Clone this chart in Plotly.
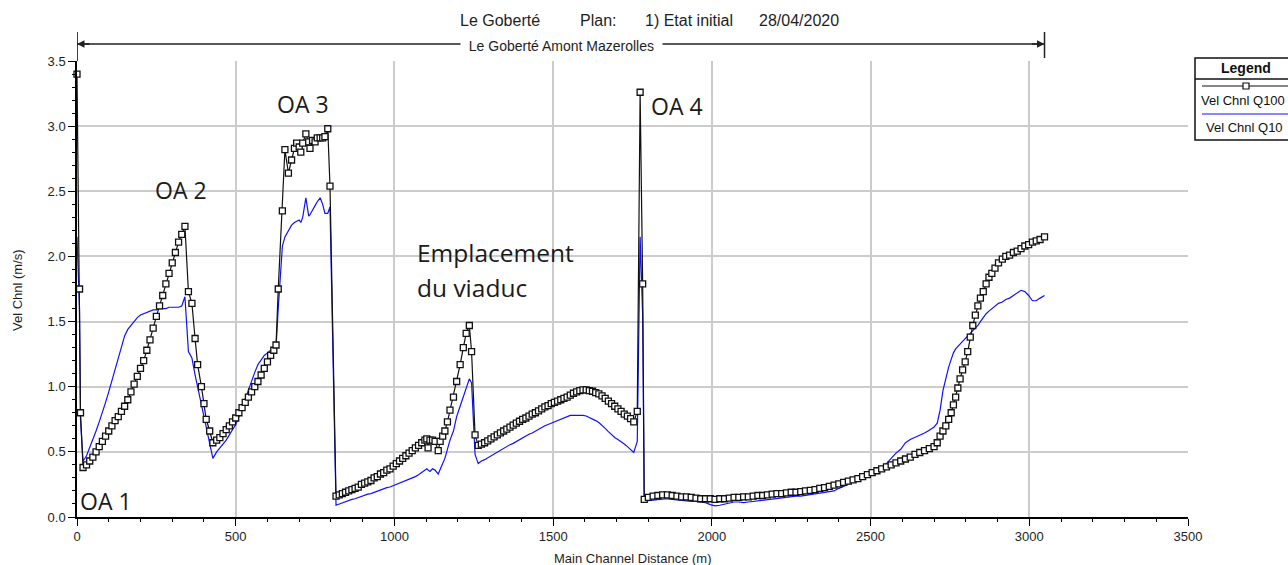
import plotly.graph_objects as go

# Cross-section stations along the main channel (m)
station_m = [
    0, 8, 11, 19,
    30, 40, 50, 60, 70, 80, 90, 100, 110, 120, 130, 140, 150, 160, 170, 180,
    190, 200, 210, 220, 230, 240, 250, 260, 270, 280, 290, 300, 310, 320, 330, 340,
    351, 362, 372, 380, 392, 400, 407, 418, 428,
    440, 450, 460, 470, 480, 490, 500, 510, 520, 530, 540, 550, 560, 570, 580, 590,
    600, 610, 620, 627, 634, 647, 655, 666, 676, 685, 692, 700, 705, 711, 721, 730,
    734, 742, 750, 757, 766, 774, 781, 790, 797,
    816, 826, 836, 846, 856, 866, 876, 886, 896, 906, 916, 926, 936, 946, 956, 966,
    976, 986, 996, 1006, 1016, 1026, 1036, 1046, 1056, 1066, 1076, 1086, 1096,
    1102, 1106, 1112, 1120, 1128, 1138, 1144, 1152, 1159, 1167, 1175, 1186, 1196,
    1207, 1217, 1226, 1236, 1243, 1254, 1264,
    1274, 1284, 1294, 1304, 1314, 1324, 1334, 1344, 1354, 1364, 1374, 1384, 1394,
    1404, 1414, 1424, 1434, 1444, 1454, 1464, 1474, 1484, 1494, 1504, 1514, 1524,
    1534, 1544, 1554, 1564, 1574, 1584, 1594, 1604, 1614, 1624, 1634, 1644, 1654,
    1664, 1674, 1684, 1694, 1704, 1714, 1724, 1734, 1744, 1754, 1765, 1774, 1782, 1787,
    1800, 1815, 1830, 1845, 1860, 1875, 1890, 1905, 1920, 1935, 1950, 1965, 1980,
    1995, 2010, 2025, 2040, 2055, 2070, 2085, 2100, 2115, 2130, 2145, 2160, 2175,
    2190, 2205, 2220, 2235, 2250, 2265, 2280, 2295, 2310, 2325, 2340, 2355, 2370,
    2385, 2400, 2415, 2430, 2445, 2460, 2475, 2490, 2505, 2520, 2535, 2550, 2565,
    2580, 2595, 2610, 2625, 2640, 2655, 2670, 2685, 2700,
    2710, 2719, 2728, 2737, 2746, 2754, 2761, 2768, 2775, 2782, 2790, 2798, 2806,
    2814, 2822, 2830, 2838, 2846, 2855, 2864, 2873, 2882, 2892, 2903, 2915, 2926,
    2938, 2950, 2962, 2974, 2986, 2998, 3010, 3022, 3034, 3048,
]

# Channel velocity, Q100 profile (m/s)
vel_chnl_q100 = [
    3.40, 1.75, 0.80, 0.38,
    0.40, 0.43, 0.46, 0.50, 0.54, 0.58, 0.62, 0.66, 0.70, 0.74, 0.77, 0.81, 0.85, 0.90, 0.96, 1.02,
    1.08, 1.14, 1.20, 1.28, 1.36, 1.45, 1.54, 1.62, 1.70, 1.79, 1.87, 1.95, 2.03, 2.11, 2.17, 2.23,
    1.73, 1.64, 1.37, 1.17, 1.00, 0.87, 0.75, 0.66, 0.57,
    0.59, 0.61, 0.64, 0.67, 0.70, 0.73, 0.76, 0.80, 0.84, 0.88, 0.92, 0.96, 1.00, 1.04, 1.09, 1.14,
    1.19, 1.24, 1.28, 1.32, 1.75, 2.35, 2.82, 2.64, 2.74, 2.83, 2.87, 2.84, 2.80, 2.87, 2.94, 2.88,
    2.83, 2.89, 2.88, 2.91, 2.91, 2.91, 2.92, 2.98, 2.54,
    0.16, 0.17, 0.18, 0.19, 0.20, 0.21, 0.22, 0.23, 0.25, 0.26, 0.27, 0.28, 0.30, 0.31, 0.33, 0.34,
    0.36, 0.37, 0.39, 0.41, 0.43, 0.45, 0.47, 0.49, 0.51, 0.53, 0.55, 0.57, 0.59,
    0.60, 0.53, 0.59, 0.59, 0.58, 0.51, 0.58, 0.62, 0.66, 0.73, 0.82, 0.92, 1.04,
    1.17, 1.30, 1.41, 1.47, 1.27, 0.63, 0.55,
    0.56, 0.57, 0.585, 0.60, 0.615, 0.63, 0.645, 0.66, 0.675, 0.69, 0.705, 0.72, 0.735,
    0.75, 0.76, 0.775, 0.79, 0.80, 0.815, 0.83, 0.845, 0.855, 0.87, 0.88, 0.89, 0.90,
    0.91, 0.92, 0.935, 0.95, 0.96, 0.97, 0.975, 0.975, 0.97, 0.965, 0.955, 0.945, 0.93,
    0.91, 0.89, 0.87, 0.85, 0.83, 0.81, 0.79, 0.775, 0.755, 0.73, 0.81, 3.26, 1.79, 0.135,
    0.15, 0.16, 0.165, 0.17, 0.17, 0.165, 0.16, 0.155, 0.155, 0.15, 0.145, 0.14, 0.14,
    0.14, 0.135, 0.14, 0.14, 0.145, 0.15, 0.15, 0.155, 0.155, 0.16, 0.165, 0.165, 0.17,
    0.175, 0.18, 0.18, 0.185, 0.19, 0.19, 0.195, 0.20, 0.205, 0.21, 0.22, 0.225, 0.235,
    0.245, 0.255, 0.265, 0.275, 0.285, 0.295, 0.31, 0.325, 0.34, 0.355, 0.37, 0.385, 0.40,
    0.415, 0.43, 0.445, 0.46, 0.48, 0.495, 0.51, 0.525, 0.54,
    0.57, 0.62, 0.66, 0.70, 0.75, 0.80, 0.86, 0.92, 0.99, 1.06, 1.13, 1.19, 1.27,
    1.38, 1.47, 1.55, 1.62, 1.68, 1.73, 1.79, 1.84, 1.87, 1.91, 1.95, 1.98, 2.00,
    2.01, 2.03, 2.04, 2.06, 2.08, 2.09, 2.11, 2.12, 2.13, 2.15,
]

# Channel velocity, Q10 profile (m/s)
vel_chnl_q10 = [
    2.15, 1.60, 0.75, 0.43,
    0.47, 0.53, 0.59, 0.66, 0.73, 0.80, 0.88, 0.96, 1.05, 1.14, 1.23, 1.32, 1.39, 1.44, 1.47, 1.50,
    1.53, 1.55, 1.56, 1.57, 1.58, 1.59, 1.59, 1.60, 1.60, 1.60, 1.61, 1.61, 1.61, 1.61, 1.62, 1.69,
    1.27, 1.22, 1.09, 1.00, 0.86, 0.77, 0.69, 0.56, 0.45,
    0.50, 0.53, 0.56, 0.59, 0.63, 0.67, 0.71, 0.77, 0.84, 0.91, 0.98, 1.05, 1.11, 1.17, 1.21, 1.24,
    1.26, 1.28, 1.29, 1.30, 1.60, 2.08, 2.15, 2.20, 2.24, 2.26, 2.27, 2.28, 2.26, 2.30, 2.45, 2.31,
    2.32, 2.36, 2.39, 2.42, 2.45, 2.40, 2.33, 2.33, 2.38,
    0.09, 0.10, 0.11, 0.12, 0.13, 0.135, 0.14, 0.15, 0.16, 0.165, 0.175, 0.18, 0.19, 0.20, 0.21, 0.215,
    0.225, 0.23, 0.24, 0.245, 0.255, 0.265, 0.28, 0.29, 0.30, 0.31, 0.325, 0.34, 0.355,
    0.37, 0.36, 0.35, 0.37, 0.36, 0.33, 0.37, 0.41, 0.45, 0.52, 0.59, 0.66, 0.77,
    0.85, 0.92, 0.99, 1.06, 1.03, 0.48, 0.41,
    0.43, 0.44, 0.455, 0.47, 0.485, 0.50, 0.515, 0.53, 0.545, 0.555, 0.565, 0.58, 0.595,
    0.605, 0.62, 0.635, 0.645, 0.66, 0.675, 0.685, 0.70, 0.71, 0.72, 0.735, 0.745, 0.755,
    0.765, 0.775, 0.78, 0.78, 0.78, 0.785, 0.78, 0.775, 0.765, 0.755, 0.74, 0.725, 0.705,
    0.68, 0.655, 0.63, 0.61, 0.595, 0.58, 0.56, 0.54, 0.52, 0.495, 0.58, 2.15, 1.55, 0.12,
    0.125, 0.13, 0.135, 0.14, 0.14, 0.135, 0.13, 0.13, 0.125, 0.12, 0.12, 0.115, 0.11,
    0.095, 0.085, 0.09, 0.10, 0.11, 0.115, 0.115, 0.11, 0.115, 0.12, 0.125, 0.13, 0.135,
    0.14, 0.14, 0.145, 0.15, 0.155, 0.16, 0.16, 0.165, 0.17, 0.175, 0.18, 0.185, 0.19,
    0.20, 0.22, 0.235, 0.25, 0.265, 0.28, 0.295, 0.31, 0.33, 0.355, 0.38, 0.41, 0.45,
    0.49, 0.52, 0.57, 0.595, 0.61, 0.625, 0.645, 0.665, 0.69,
    0.72, 0.82, 0.97, 1.07, 1.15, 1.21, 1.26, 1.29, 1.31, 1.33, 1.35, 1.37, 1.39,
    1.41, 1.43, 1.45, 1.47, 1.50, 1.53, 1.56, 1.58, 1.60, 1.62, 1.64, 1.65, 1.67,
    1.68, 1.70, 1.72, 1.74, 1.73, 1.70, 1.66, 1.66, 1.68, 1.70,
]

assert len(station_m) == len(vel_chnl_q100) == len(vel_chnl_q10)

x_ticks = [0, 500, 1000, 1500, 2000, 2500, 3000, 3500]
y_ticks = [0.0, 0.5, 1.0, 1.5, 2.0, 2.5, 3.0, 3.5]
reach_end_m = 3048

# Plot-area geometry (pixels) for placing decorations in paper space
L, R, T, B = 77, 1188, 61, 517


def px(xp):
    return (xp - L) / (R - L)


def py(yp):
    return (B - yp) / (B - T)


def dx(xp):
    return (xp - L) / (R - L) * 3500


def dy(yp):
    return (B - yp) / (B - T) * 3.5


TXT = "#1e1e1e"
SANS = "Liberation Sans, Arial, sans-serif"

fig = go.Figure()

fig.add_trace(go.Scatter(
    x=station_m, y=vel_chnl_q10, mode="lines", name="Vel Chnl Q10",
    line=dict(color="#1010ff", width=1.2), cliponaxis=False, showlegend=False,
))
fig.add_trace(go.Scatter(
    x=station_m, y=vel_chnl_q100, mode="lines+markers", name="Vel Chnl Q100",
    line=dict(color="#111111", width=1.2),
    marker=dict(symbol="square", size=6, color="white",
                line=dict(color="#111111", width=1.3)),
    cliponaxis=False, showlegend=False,
))


def paper_text(text, xp, yp, size, xanchor="center", **kw):
    return dict(text=text, x=px(xp), y=py(yp), xref="paper", yref="paper",
                xanchor=xanchor, yanchor="middle", showarrow=False,
                font=dict(family=SANS, size=size, color=kw.pop("color", TXT)), **kw)


def label(text, xp, yp, size):
    return dict(text=text, x=dx(xp), y=dy(yp), xref="x", yref="y",
                xanchor="left", yanchor="middle", showarrow=False, borderpad=0,
                font=dict(family="Open Sans, sans-serif", size=size, color="#1a1a1a"))


annotations = [
    # header
    paper_text("Le Goberté", 458, 20, 16, xanchor="left"),
    paper_text("Plan:", 578, 20, 16, xanchor="left"),
    paper_text("1) Etat initial", 643, 20, 16, xanchor="left"),
    paper_text("28/04/2020", 757, 20, 16, xanchor="left"),
    # reach name on the reach extent line
    paper_text("  Le Goberté Amont Mazerolles  ", 561, 46, 14, bgcolor="white", borderpad=0),
    # axis titles
    paper_text("Vel Chnl (m/s)", 17, 290, 13, textangle=-90),
    paper_text("Main Channel Distance (m)", 633, 558, 13),
    # legend box texts
    paper_text("<b>Legend</b>", 1246, 68, 14, color="#111"),
    paper_text("Vel Chnl Q100", 1199, 100, 13, xanchor="left", color="#111"),
    paper_text("Vel Chnl Q10", 1204, 127, 13, xanchor="left", color="#111"),
    # reach extent arrowheads
    dict(text="", x=0, y=py(44), xref="x", yref="paper", ax=14, ay=0,
         showarrow=True, arrowhead=2, arrowsize=1, arrowwidth=1.5, arrowcolor="#222"),
    dict(text="", x=reach_end_m, y=py(44), xref="x", yref="paper", ax=-14, ay=0,
         showarrow=True, arrowhead=2, arrowsize=1, arrowwidth=1.5, arrowcolor="#222"),
    # structure labels
    label("OA 1", 79, 501, 23),
    label("OA 2", 154, 190, 23),
    label("OA 3", 276, 104, 23),
    label("OA 4", 650, 106, 23),
    label("Emplacement", 416, 252, 24.5),
    label("du viaduc", 416, 287, 24.5),
]

shapes = [
    # reach extent line and end marker
    dict(type="line", xref="x", yref="paper", x0=0, x1=reach_end_m, y0=py(44), y1=py(44),
         line=dict(color="#222", width=1.5), layer="below"),
    dict(type="line", xref="x", yref="paper", x0=reach_end_m, x1=reach_end_m,
         y0=py(58), y1=py(32), line=dict(color="#222", width=1.5)),
    # y axis extends above the plot area
    dict(type="line", xref="x", yref="paper", x0=0, x1=0, y0=1, y1=py(32),
         line=dict(color="black", width=1.5)),
    # legend frame
    dict(type="rect", xref="paper", yref="paper", x0=px(1195), x1=px(1300),
         y0=py(140), y1=py(58), line=dict(color="#111", width=1.5), fillcolor="white",
         layer="below"),
    dict(type="line", xref="paper", yref="paper", x0=px(1195), x1=px(1300),
         y0=py(79), y1=py(79), line=dict(color="#111", width=1.5)),
    dict(type="line", xref="paper", yref="paper", x0=px(1202), x1=px(1300),
         y0=py(86), y1=py(86), line=dict(color="#111", width=1)),
    dict(type="rect", xref="paper", yref="paper", x0=px(1243), x1=px(1249),
         y0=py(89), y1=py(83), line=dict(color="#111", width=1.2), fillcolor="white"),
    dict(type="line", xref="paper", yref="paper", x0=px(1202), x1=px(1300),
         y0=py(114), y1=py(114), line=dict(color="#1010ff", width=1.2)),
]

axis_common = dict(
    showline=True, linecolor="black", linewidth=1.5,
    showgrid=True, gridcolor="#cccccc", gridwidth=1.5, zeroline=False,
    ticks="outside", ticklen=7, tickwidth=1, tickcolor="black",
    tickfont=dict(family=SANS, size=13, color=TXT),
)

fig.update_layout(
    width=1288, height=565,
    margin=dict(l=L, r=1288 - R, t=T, b=565 - B, pad=0),
    paper_bgcolor="white", plot_bgcolor="white",
    showlegend=False,
    xaxis=dict(range=[0, 3500], tickvals=x_ticks, ticktext=[str(v) for v in x_ticks],
               minor=dict(dtick=100, tick0=0, ticks="outside", ticklen=3,
                          tickcolor="black", showgrid=False),
               **axis_common),
    yaxis=dict(range=[0, 3.5], tickvals=y_ticks, ticktext=[f"{v:.1f}" for v in y_ticks],
               minor=dict(dtick=0.1, tick0=0, ticks="outside", ticklen=3,
                          tickcolor="black", showgrid=False),
               **axis_common),
    annotations=annotations,
    shapes=shapes,
)

fig.write_html("out.html")
